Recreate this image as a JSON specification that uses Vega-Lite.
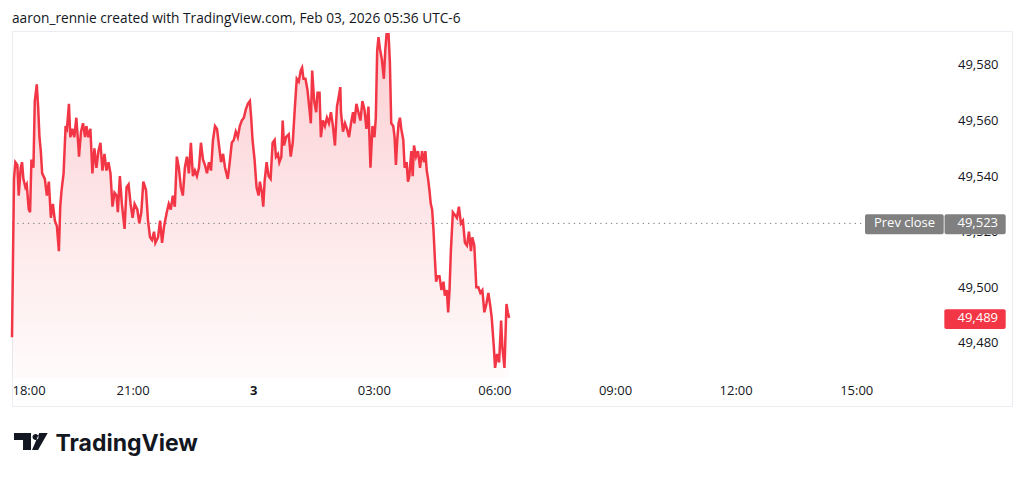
{
  "$schema": "https://vega.github.io/schema/vega-lite/v6.json",
  "width": 1000,
  "height": 375,
  "autosize": {"type": "none"},
  "padding": {"left": 12, "top": 31, "right": 12, "bottom": 71},
  "background": "white",
  "title": {
    "text": "aaron_rennie created with TradingView.com, Feb 03, 2026 05:36 UTC-6",
    "anchor": "start",
    "frame": "group",
    "orient": "top",
    "font": "Open Sans",
    "fontSize": 13.7,
    "fontWeight": "normal",
    "color": "#131722",
    "baseline": "alphabetic",
    "offset": 8,
    "dy": 15
  },
  "datasets": {
    "prices": [
      {"m": 0, "price": 49482}, {"m": 3, "price": 49539}, {"m": 5, "price": 49545}, {"m": 8, "price": 49544},
      {"m": 10, "price": 49533}, {"m": 13, "price": 49543}, {"m": 15, "price": 49545}, {"m": 17, "price": 49539},
      {"m": 20, "price": 49536}, {"m": 22, "price": 49537}, {"m": 25, "price": 49528}, {"m": 27, "price": 49527},
      {"m": 29, "price": 49546}, {"m": 32, "price": 49543}, {"m": 34, "price": 49567}, {"m": 37, "price": 49573},
      {"m": 39, "price": 49565}, {"m": 41, "price": 49554}, {"m": 43, "price": 49549}, {"m": 45, "price": 49541},
      {"m": 49, "price": 49539}, {"m": 52, "price": 49533}, {"m": 55, "price": 49538}, {"m": 58, "price": 49525},
      {"m": 61, "price": 49530}, {"m": 64, "price": 49524}, {"m": 67, "price": 49522}, {"m": 70, "price": 49513},
      {"m": 72, "price": 49529}, {"m": 74, "price": 49535}, {"m": 77, "price": 49541}, {"m": 80, "price": 49558},
      {"m": 82, "price": 49557}, {"m": 85, "price": 49566}, {"m": 87, "price": 49554}, {"m": 90, "price": 49557},
      {"m": 93, "price": 49554}, {"m": 96, "price": 49561}, {"m": 99, "price": 49551}, {"m": 100, "price": 49547},
      {"m": 103, "price": 49556}, {"m": 106, "price": 49559}, {"m": 109, "price": 49554}, {"m": 111, "price": 49558},
      {"m": 114, "price": 49554}, {"m": 117, "price": 49557}, {"m": 120, "price": 49541}, {"m": 123, "price": 49550},
      {"m": 126, "price": 49543}, {"m": 129, "price": 49549}, {"m": 132, "price": 49552}, {"m": 135, "price": 49542},
      {"m": 138, "price": 49548}, {"m": 141, "price": 49542}, {"m": 144, "price": 49545}, {"m": 147, "price": 49541},
      {"m": 150, "price": 49529}, {"m": 153, "price": 49534}, {"m": 156, "price": 49533}, {"m": 158, "price": 49527},
      {"m": 161, "price": 49540}, {"m": 164, "price": 49530}, {"m": 168, "price": 49521}, {"m": 171, "price": 49536},
      {"m": 174, "price": 49537}, {"m": 177, "price": 49530}, {"m": 180, "price": 49525}, {"m": 183, "price": 49530},
      {"m": 187, "price": 49528}, {"m": 190, "price": 49523}, {"m": 193, "price": 49527}, {"m": 196, "price": 49538},
      {"m": 200, "price": 49535}, {"m": 203, "price": 49524}, {"m": 206, "price": 49518}, {"m": 209, "price": 49517},
      {"m": 212, "price": 49520}, {"m": 214, "price": 49516}, {"m": 218, "price": 49518}, {"m": 221, "price": 49524},
      {"m": 224, "price": 49516}, {"m": 227, "price": 49522}, {"m": 231, "price": 49527}, {"m": 234, "price": 49530},
      {"m": 237, "price": 49528}, {"m": 240, "price": 49533}, {"m": 243, "price": 49529}, {"m": 246, "price": 49547},
      {"m": 249, "price": 49543}, {"m": 252, "price": 49536}, {"m": 255, "price": 49533}, {"m": 258, "price": 49543},
      {"m": 261, "price": 49547}, {"m": 264, "price": 49541}, {"m": 267, "price": 49552}, {"m": 270, "price": 49540},
      {"m": 273, "price": 49542}, {"m": 276, "price": 49540}, {"m": 279, "price": 49543}, {"m": 282, "price": 49552},
      {"m": 285, "price": 49546}, {"m": 288, "price": 49544}, {"m": 291, "price": 49541}, {"m": 294, "price": 49545},
      {"m": 297, "price": 49542}, {"m": 300, "price": 49553}, {"m": 303, "price": 49558}, {"m": 306, "price": 49557},
      {"m": 309, "price": 49551}, {"m": 312, "price": 49545}, {"m": 315, "price": 49548}, {"m": 318, "price": 49543},
      {"m": 322, "price": 49539}, {"m": 325, "price": 49545}, {"m": 328, "price": 49552}, {"m": 331, "price": 49553},
      {"m": 334, "price": 49556}, {"m": 337, "price": 49554}, {"m": 340, "price": 49558}, {"m": 343, "price": 49560},
      {"m": 346, "price": 49561}, {"m": 349, "price": 49564}, {"m": 352, "price": 49566}, {"m": 355, "price": 49567},
      {"m": 357, "price": 49561}, {"m": 359, "price": 49553}, {"m": 362, "price": 49546}, {"m": 365, "price": 49536},
      {"m": 368, "price": 49533}, {"m": 370, "price": 49538}, {"m": 373, "price": 49534}, {"m": 375, "price": 49529},
      {"m": 377, "price": 49538}, {"m": 380, "price": 49545}, {"m": 383, "price": 49540}, {"m": 386, "price": 49539},
      {"m": 389, "price": 49552}, {"m": 392, "price": 49553}, {"m": 394, "price": 49547}, {"m": 397, "price": 49548},
      {"m": 399, "price": 49545}, {"m": 402, "price": 49547}, {"m": 404, "price": 49560}, {"m": 406, "price": 49551},
      {"m": 409, "price": 49554}, {"m": 413, "price": 49555}, {"m": 416, "price": 49547}, {"m": 419, "price": 49552},
      {"m": 422, "price": 49564}, {"m": 425, "price": 49575}, {"m": 428, "price": 49574}, {"m": 431, "price": 49578},
      {"m": 433, "price": 49579}, {"m": 435, "price": 49575}, {"m": 438, "price": 49575}, {"m": 441, "price": 49571},
      {"m": 444, "price": 49564}, {"m": 446, "price": 49559}, {"m": 448, "price": 49578}, {"m": 451, "price": 49567},
      {"m": 454, "price": 49563}, {"m": 456, "price": 49570}, {"m": 459, "price": 49570}, {"m": 461, "price": 49554},
      {"m": 464, "price": 49560}, {"m": 467, "price": 49558}, {"m": 470, "price": 49561}, {"m": 473, "price": 49559},
      {"m": 476, "price": 49563}, {"m": 479, "price": 49558}, {"m": 482, "price": 49551}, {"m": 485, "price": 49565},
      {"m": 488, "price": 49569}, {"m": 490, "price": 49572}, {"m": 491, "price": 49563}, {"m": 494, "price": 49556},
      {"m": 497, "price": 49559}, {"m": 500, "price": 49557}, {"m": 503, "price": 49554}, {"m": 506, "price": 49559},
      {"m": 509, "price": 49563}, {"m": 511, "price": 49559}, {"m": 514, "price": 49566}, {"m": 517, "price": 49563},
      {"m": 520, "price": 49560}, {"m": 523, "price": 49567}, {"m": 526, "price": 49564}, {"m": 529, "price": 49557},
      {"m": 532, "price": 49565}, {"m": 535, "price": 49543}, {"m": 538, "price": 49558}, {"m": 541, "price": 49554},
      {"m": 543, "price": 49561}, {"m": 545, "price": 49585}, {"m": 547, "price": 49590}, {"m": 549, "price": 49586},
      {"m": 552, "price": 49582}, {"m": 555, "price": 49575}, {"m": 557, "price": 49585}, {"m": 559, "price": 49591},
      {"m": 562, "price": 49591}, {"m": 564, "price": 49581}, {"m": 566, "price": 49559}, {"m": 569, "price": 49558},
      {"m": 571, "price": 49554}, {"m": 573, "price": 49544}, {"m": 575, "price": 49553}, {"m": 577, "price": 49559},
      {"m": 579, "price": 49561}, {"m": 581, "price": 49557}, {"m": 584, "price": 49553}, {"m": 586, "price": 49543},
      {"m": 589, "price": 49545}, {"m": 591, "price": 49538}, {"m": 593, "price": 49540}, {"m": 596, "price": 49549},
      {"m": 598, "price": 49540}, {"m": 600, "price": 49551}, {"m": 603, "price": 49547}, {"m": 606, "price": 49549},
      {"m": 609, "price": 49543}, {"m": 612, "price": 49549}, {"m": 615, "price": 49545}, {"m": 617, "price": 49549},
      {"m": 619, "price": 49542}, {"m": 621, "price": 49539}, {"m": 623, "price": 49535}, {"m": 625, "price": 49530},
      {"m": 627, "price": 49528}, {"m": 629, "price": 49521}, {"m": 631, "price": 49511}, {"m": 633, "price": 49502},
      {"m": 635, "price": 49504}, {"m": 638, "price": 49504}, {"m": 641, "price": 49499}, {"m": 644, "price": 49502},
      {"m": 646, "price": 49497}, {"m": 649, "price": 49499}, {"m": 651, "price": 49491}, {"m": 653, "price": 49499},
      {"m": 655, "price": 49513}, {"m": 658, "price": 49527}, {"m": 661, "price": 49526}, {"m": 664, "price": 49525},
      {"m": 667, "price": 49529}, {"m": 670, "price": 49523}, {"m": 673, "price": 49524}, {"m": 676, "price": 49516},
      {"m": 679, "price": 49515}, {"m": 682, "price": 49520}, {"m": 685, "price": 49513}, {"m": 687, "price": 49518},
      {"m": 690, "price": 49515}, {"m": 693, "price": 49500}, {"m": 696, "price": 49500}, {"m": 699, "price": 49498},
      {"m": 702, "price": 49499}, {"m": 705, "price": 49491}, {"m": 708, "price": 49494}, {"m": 711, "price": 49498},
      {"m": 714, "price": 49493}, {"m": 716, "price": 49489}, {"m": 719, "price": 49479}, {"m": 721, "price": 49471},
      {"m": 724, "price": 49476}, {"m": 727, "price": 49473}, {"m": 730, "price": 49488}, {"m": 732, "price": 49478},
      {"m": 735, "price": 49471}, {"m": 738, "price": 49494}, {"m": 740, "price": 49491}, {"m": 742, "price": 49489}
    ]
  },
  "config": {
    "view": {"stroke": "#e9ecf1", "strokeWidth": 1},
    "font": "Open Sans"
  },
  "layer": [
    {
      "data": {"name": "prices"},
      "mark": {
        "type": "area",
        "interpolate": "linear",
        "color": {
          "gradient": "linear",
          "x1": 0, "y1": 0, "x2": 0, "y2": 1,
          "stops": [
            {"offset": 0, "color": "rgba(242,54,69,0.24)"},
            {"offset": 1, "color": "rgba(242,54,69,0.02)"}
          ]
        }
      },
      "encoding": {
        "x": {
          "field": "m",
          "type": "quantitative",
          "scale": {"domain": [0, 1492.5], "nice": false, "zero": false},
          "axis": {
            "orient": "bottom",
            "offset": -28,
            "values": [0, 180, 360, 540, 720, 900, 1080, 1260],
            "labelExpr": "datum.value == 360 ? '3' : format((18 + datum.value / 60) % 24, '02d') + ':00'",
            "labelFlush": true,
            "labelOverlap": false,
            "domain": false,
            "ticks": false,
            "tickSize": 0,
            "grid": false,
            "labelPadding": 6,
            "labelFont": "Open Sans",
            "labelFontSize": 13,
            "labelColor": "#131722",
            "labelFontWeight": {"condition": {"test": "datum.value == 360", "value": "bold"}, "value": "normal"},
            "title": "TradingView",
            "titleFont": "Inter",
            "titleFontSize": 23,
            "titleFontWeight": "bold",
            "titleColor": "#131722",
            "titleAnchor": "start",
            "titleAlign": "left",
            "titleBaseline": "alphabetic",
            "titleX": 43,
            "titleY": 72
          }
        },
        "y": {
          "field": "price",
          "type": "quantitative",
          "scale": {"domain": [49457.3, 49592.2], "nice": false, "zero": false},
          "axis": {
            "orient": "right",
            "offset": -14,
            "values": [49480, 49500, 49520, 49540, 49560, 49580],
            "format": ",d",
            "domain": false,
            "ticks": false,
            "tickSize": 0,
            "grid": false,
            "labelPadding": 0,
            "labelAlign": "right",
            "labelBaseline": "middle",
            "labelFlush": false,
            "labelFont": "Open Sans",
            "labelFontSize": 13,
            "labelColor": "#131722",
            "title": null
          }
        },
        "y2": {"datum": 49467.4}
      }
    },
    {
      "data": {"values": [{"prev_close": 49523}]},
      "mark": {"type": "rule", "color": "#787b86", "strokeDash": [1.3, 4], "strokeWidth": 1},
      "encoding": {
        "y": {"field": "prev_close", "type": "quantitative"},
        "x": {"datum": 0},
        "x2": {"datum": 1273}
      }
    },
    {
      "data": {"name": "prices"},
      "mark": {"type": "line", "color": "#f23645", "strokeWidth": 2.5, "interpolate": "linear"},
      "encoding": {
        "x": {"field": "m", "type": "quantitative"},
        "y": {"field": "price", "type": "quantitative"}
      }
    },
    {
      "data": {"values": [{"label": "Prev close", "price": 49523}]},
      "layer": [
        {
          "mark": {"type": "rect", "color": "#808080", "cornerRadius": 2},
          "encoding": {
            "x": {"datum": 1273.1}, "x2": {"datum": 1390.6},
            "y": {"datum": 49526.3}, "y2": {"datum": 49519.1}
          }
        },
        {
          "mark": {"type": "rect", "color": "#808080", "cornerRadius": 2},
          "encoding": {
            "x": {"datum": 1391.8}, "x2": {"datum": 1483.1},
            "y": {"datum": 49526.3}, "y2": {"datum": 49519.1}
          }
        },
        {
          "mark": {"type": "text", "color": "white", "font": "Open Sans", "fontSize": 13, "align": "center", "baseline": "middle"},
          "encoding": {
            "x": {"datum": 1332.1},
            "y": {"field": "price", "type": "quantitative"},
            "text": {"field": "label"}
          }
        },
        {
          "mark": {"type": "text", "color": "white", "font": "Open Sans", "fontSize": 13, "align": "right", "baseline": "middle"},
          "encoding": {
            "x": {"datum": 1471.6},
            "y": {"field": "price", "type": "quantitative"},
            "text": {"field": "price", "type": "quantitative", "format": ",d"}
          }
        }
      ]
    },
    {
      "data": {"values": [{"last": 49489}]},
      "layer": [
        {
          "mark": {"type": "rect", "color": "#f23645", "cornerRadius": 2},
          "encoding": {
            "x": {"datum": 1391.5}, "x2": {"datum": 1483.1},
            "y": {"datum": 49492.1}, "y2": {"datum": 49485.0}
          }
        },
        {
          "mark": {"type": "text", "color": "white", "font": "Open Sans", "fontSize": 13, "align": "right", "baseline": "middle"},
          "encoding": {
            "x": {"datum": 1471.6},
            "y": {"field": "last", "type": "quantitative"},
            "text": {"field": "last", "type": "quantitative", "format": ",d"}
          }
        }
      ]
    },
    {
      "data": {"values": [{"brand": "TradingView"}]},
      "mark": {
        "type": "point",
        "shape": "M-17,-8.5L0,-8.5L0,8.5L-8,8.5L-8,-1.5L-17,-1.5Z M1.5,-4.5a3,3 0 1,0 6,0a3,3 0 1,0 -6,0Z M8.3,-8.5L16.7,-8.5L7,8.5L1,8.5Z",
        "filled": true,
        "color": "#131722",
        "opacity": 1,
        "size": 4,
        "strokeWidth": 0
      },
      "encoding": {
        "x": {"datum": 28.4},
        "y": {"datum": 49444.5}
      }
    }
  ]
}
